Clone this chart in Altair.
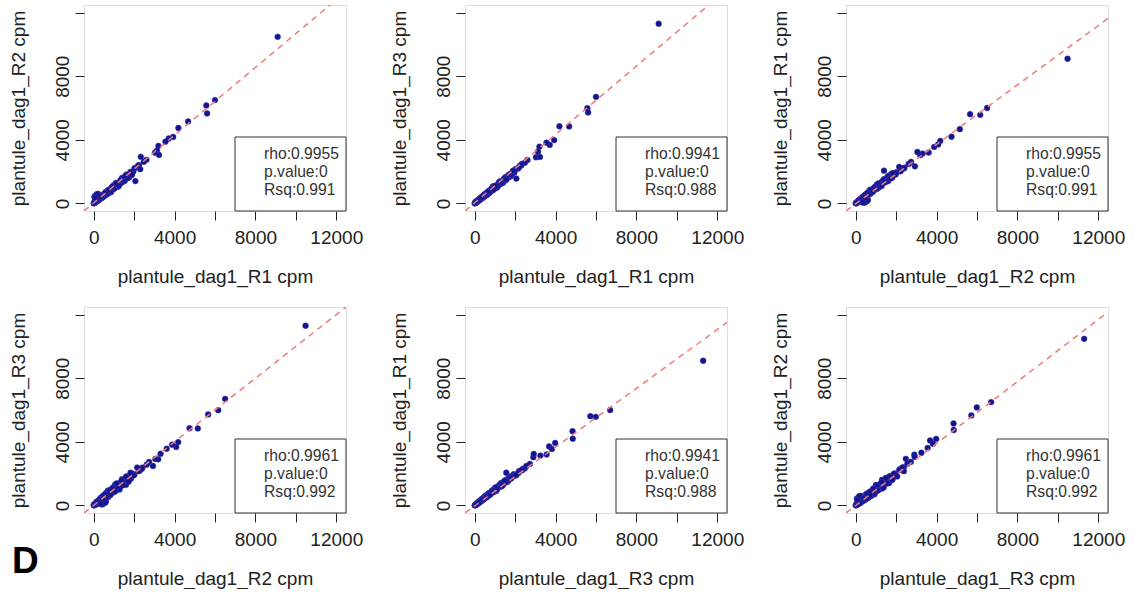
import altair as alt
import pandas as pd

# ---- data (cpm values per gene, three replicates) ----
R1 = [9100, 6000, 5570, 5610, 4670, 4190, 3930, 3710, 3550, 3200, 3130, 3030, 2610, 2330, 2060,
      3230, 2480, 2240, 2150,
      1960, 1880, 1840, 1790, 1730, 1700, 1640, 1610, 1570, 1530, 1490, 1460, 1420, 1380, 1350,
      1310, 1280, 1240, 1210, 1180, 1150, 1120, 1090, 1060, 1030, 1000, 970, 940, 910, 880, 850,
      820, 790, 760, 740, 710, 690, 660, 640, 610, 590, 560, 540, 510, 490, 470, 450, 420, 400,
      380, 360, 340, 310, 290, 270, 250, 230, 210, 190, 170, 150, 130, 110, 90, 70, 50, 35, 20,
      10, 5, 150, 80, 220, 40, 300, 120, 1400, 1000, 700, 1750, 2300, 1200, 900, 600, 850, 1520,
      1100,
      1620, 1450, 1330, 1190, 1070, 960, 870, 780, 690, 620, 540, 470, 410, 330, 260, 190, 120,
      60, 1820, 1690, 1560, 1250, 1130, 1010, 930, 820, 730, 640, 560, 480, 390, 320, 240, 170,
      100, 30, 250, 180, 350, 60, 2020, 1900, 2200]
R2 = [10480, 6500, 6160, 5660, 5150, 4740, 4180, 4080, 3880, 3610, 3310, 3190, 2740, 2930, 1400,
      3050, 2620, 2410, 2280,
      2010, 1920, 1760, 1850, 1690, 1810, 1570, 1700, 1500, 1620, 1440, 1390, 1530, 1310, 1420,
      1250, 1350, 1170, 1290, 1120, 1210, 1060, 1160, 990, 1080, 940, 1040, 880, 960, 830, 900,
      760, 850, 700, 780, 650, 730, 600, 690, 560, 620, 510, 590, 470, 530, 420, 490, 380, 440,
      350, 400, 300, 350, 260, 310, 220, 270, 180, 230, 150, 190, 110, 150, 70, 100, 40, 60, 15,
      20, 3, 560, 480, 600, 420, 520, 510, 1600, 1150, 820, 1640, 2150, 1050, 1020, 720, 700, 1400,
      1280,
      1810, 1380, 1460, 1090, 1190, 1070, 790, 880, 610, 700, 480, 540, 350, 400, 300, 160, 180,
      90, 1980, 1600, 1720, 1130, 1260, 930, 1050, 740, 820, 580, 650, 430, 470, 290, 280, 140,
      130, 40, 530, 580, 440, 350, 2220, 1820, 2380]
R3 = [11300, 6700, 5990, 5720, 4840, 4850, 3980, 3680, 3820, 3560, 3250, 2900, 2730, 2480, 1560,
      2920, 2560, 2380, 2190,
      1930, 1990, 1810, 1720, 1780, 1650, 1690, 1600, 1540, 1480, 1560, 1410, 1450, 1350, 1300,
      1380, 1220, 1260, 1180, 1230, 1100, 1150, 1040, 1080, 990, 1030, 930, 960, 870, 910, 820,
      860, 760, 790, 690, 740, 660, 690, 610, 650, 570, 590, 520, 550, 460, 500, 430, 460, 370,
      410, 330, 360, 290, 320, 250, 270, 210, 240, 170, 190, 130, 160, 90, 110, 60, 70, 30, 25,
      8, 6, 170, 120, 260, 60, 330, 150, 1300, 1100, 650, 1820, 2380, 1290, 1060, 520, 930, 1650,
      1000,
      1700, 1560, 1280, 1310, 1000, 1050, 950, 740, 780, 580, 630, 440, 470, 300, 310, 230, 100,
      80, 1890, 1800, 1490, 1380, 1060, 1100, 860, 900, 690, 710, 520, 540, 350, 380, 210, 200,
      90, 50, 280, 200, 390, 90, 2150, 2050, 2300]

# panels: (x replicate, y replicate)
PANEL_X = ["R1", "R1", "R2", "R2", "R3", "R3"]
PANEL_Y = ["R2", "R3", "R1", "R3", "R1", "R2"]
RHO = ["0.9955", "0.9941", "0.9955", "0.9961", "0.9941", "0.9961"]
PVAL = ["0", "0", "0", "0", "0", "0"]
RSQ = ["0.991", "0.988", "0.991", "0.992", "0.988", "0.992"]
# fitted line of each panel (slope, intercept)
SLOPE = [1.065, 1.075, 0.935, 1.0, 0.925, 0.975]
INTERCEPT = [30, 35, -30, 0, -35, -10]

TICKS = [0, 2000, 4000, 6000, 8000, 10000, 12000]
DOMAIN = [-480, 12480]

genes = pd.DataFrame({"R1": R1, "R2": R2, "R3": R3})
one = pd.DataFrame({"k": [0]})

FONT = "Liberation Sans"
TXT = "#222222"
W, H = 262, 206


def panel(i):
    xc, yc = PANEL_X[i], PANEL_Y[i]
    xs = alt.Scale(domain=DOMAIN, nice=False, zero=False)
    ys = alt.Scale(domain=DOMAIN, nice=False, zero=False)
    xaxis = alt.Axis(values=TICKS, labelExpr="datum.value % 4000 === 0 ? format(datum.value, 'd') : ''",
                     grid=False, domain=False, tickSize=9, tickColor=TXT, tickWidth=1,
                     labelFont=FONT, labelFontSize=19, labelColor=TXT, labelPadding=23,
                     labelBaseline="alphabetic", labelFlush=False, labelOverlap=False,
                     title=f"plantule_dag1_{xc} cpm", titleFont=FONT, titleFontSize=19,
                     titleFontWeight="normal", titleColor=TXT, titleBaseline="alphabetic",
                     titleX=W / 2, titleY=71)
    yaxis = alt.Axis(values=TICKS,
                     labelExpr="datum.value % 4000 === 0 && datum.value < 12000 ? format(datum.value, 'd') : ''",
                     grid=False, domain=False, tickSize=9, tickColor=TXT, tickWidth=1,
                     labelFont=FONT, labelFontSize=19, labelColor=TXT, labelPadding=7,
                     labelAngle=270, labelAlign="center", labelBaseline="alphabetic",
                     labelFlush=False, labelOverlap=False,
                     title=f"plantule_dag1_{yc} cpm", titleFont=FONT, titleFontSize=19,
                     titleFontWeight="normal", titleColor=TXT, titleBaseline="alphabetic",
                     titleAngle=270, titleX=-60, titleY=H / 2)

    pts = alt.Chart(genes).mark_circle(size=34, color="#14148c", opacity=1,
                                       stroke="#3a3ab8", strokeWidth=0.8, strokeOpacity=0.6).encode(
        x=alt.X(f"{xc}:Q", scale=xs, axis=xaxis),
        y=alt.Y(f"{yc}:Q", scale=ys, axis=yaxis),
    )

    line_df = pd.DataFrame({"lx": DOMAIN,
                            "ly": [SLOPE[i] * v + INTERCEPT[i] for v in DOMAIN]})
    fit = alt.Chart(line_df).mark_line(color="#f07a7a", strokeDash=[6, 5], strokeWidth=1.5,
                                       clip=True).encode(
        x=alt.X("lx:Q", scale=xs),
        y=alt.Y("ly:Q", scale=ys),
    )

    box = alt.Chart(one).mark_rect(fill="white", stroke="#333333", strokeWidth=1).encode(
        x=alt.value(151), x2=alt.value(W), y=alt.value(132), y2=alt.value(H)
    )
    legend = alt.Chart(one).mark_text(font=FONT, fontSize=15.7, color="#333333", align="left",
                                      baseline="alphabetic", lineHeight=18).encode(
        x=alt.value(180), y=alt.value(154),
        text=alt.value([f"rho:{RHO[i]}", f"p.value:{PVAL[i]}", f"Rsq:{RSQ[i]}"]),
    )
    layers = [pts, fit, box, legend]
    if i == 3:
        tag = alt.Chart(one).mark_text(font=FONT, fontSize=37, fontWeight="bold", color="black",
                                       align="left", baseline="alphabetic", text="D").encode(
            x=alt.value(-72), y=alt.value(266))
        layers.append(tag)
    return alt.layer(*layers).properties(width=W, height=H)


chart = alt.concat(*[panel(i) for i in range(6)], columns=3,
                   spacing={"row": 96, "column": 119}, bounds="flush").properties(
    padding={"left": 8, "top": 4, "right": 0, "bottom": 0}
).configure_view(stroke="#333333", strokeWidth=1.2).configure(background="white")

chart.save("out.html", embed_options={"renderer": "svg", "actions": False})
